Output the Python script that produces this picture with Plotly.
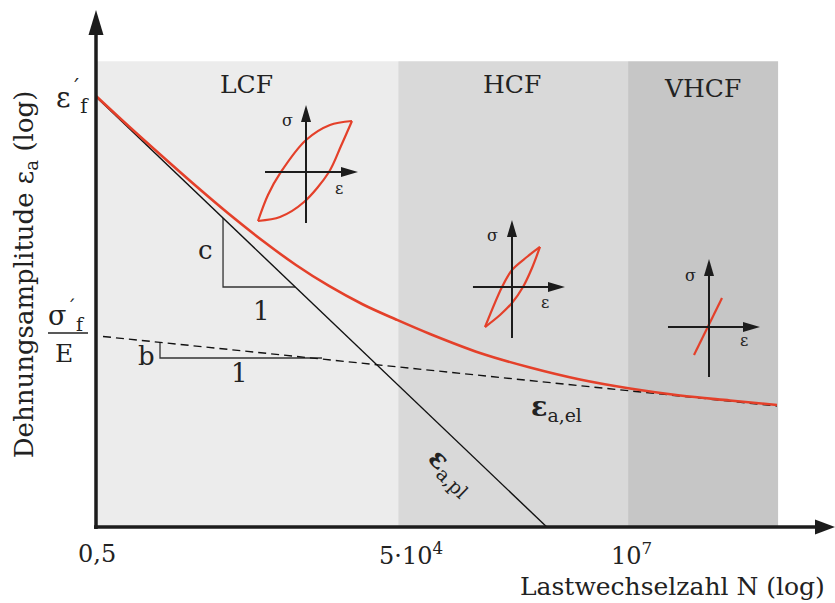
import plotly.graph_objects as go

# ---------------- data (schematic units: x ~ log N position, y ~ log eps position) -------------
region_names = ["LCF", "HCF", "VHCF"]
region_start = [0.0, 40.9, 72.0]
region_end = [40.9, 72.0, 92.3]
region_top = 90.1
region_colors = ["#ececec", "#d9d9d9", "#c6c6c6"]
region_label_x = [20.4, 56.3, 82.1]
region_label_y = [85.5, 85.5, 84.9]

tick_pos = [0.14, 42.6, 72.4]
tick_text = ["0,5", "5·10<sup>4</sup>", "10<sup>7</sup>"]

# plastic strain amplitude (Coffin-Manson), solid black
pl_x = [0.0, 61.0]
pl_y = [83.2, 0.0]
# elastic strain amplitude (Basquin), dashed
el_x = [0.95, 92.15]
el_y = [36.85, 23.4]
# total strain amplitude, red
tot_x = [0.0, 4.47, 9.07, 13.53, 18.0, 22.6, 27.06, 31.53, 36.13, 40.6, 45.2,
         51.96, 58.73, 65.49, 72.26, 79.03, 85.79, 92.15]
tot_y = [83.37, 77.47, 71.57, 65.96, 60.54, 55.32, 50.68, 46.62, 43.04, 40.14, 37.33,
         33.66, 30.85, 28.53, 26.79, 25.44, 24.47, 23.60]

# slope triangles
tri_c_x = [17.19, 17.19, 26.93]
tri_c_y = [59.77, 46.42, 46.42]
tri_b_x = [8.66, 8.66, 30.58]
tri_b_y = [35.78, 32.69, 32.69]

# hysteresis insets (LCF, HCF) and linear-elastic inset (VHCF)
lcf_up_x = [21.92, 23.27, 25.03, 28.42, 31.66, 34.64]
lcf_up_y = [59.19, 64.22, 68.67, 74.85, 77.76, 78.53]
lcf_lo_x = [21.92, 24.9, 28.15, 31.53, 33.15, 34.64]
lcf_lo_y = [59.19, 59.96, 62.86, 68.67, 73.69, 78.53]
hcf_up_x = [52.64, 54.94, 56.29, 58.3, 60.08]
hcf_up_y = [38.68, 46.42, 49.71, 52.22, 54.16]
hcf_lo_x = [52.64, 54.67, 56.29, 57.78, 59.0, 60.08]
hcf_lo_y = [38.68, 41.01, 43.33, 46.42, 50.1, 54.16]
vhcf_x = [80.92, 84.71]
vhcf_y = [33.27, 44.29]

# inset axes: (x_left, x_tip, y_h, x_v, y_bottom, y_tip)
inset_axes = [
    (22.87, 35.45, 68.67, 28.42, 58.80, 81.62),
    (51.01, 63.46, 46.42, 56.29, 36.56, 59.38),
    (77.40, 89.85, 38.68, 82.95, 29.01, 51.84),
]
inset_sigma_pos = [(25.98, 78.72), (53.72, 56.48), (80.38, 48.74)]
inset_eps_pos = [(32.88, 65.57), (60.76, 43.33), (87.69, 36.17)]

# ---------------- layout geometry -------------------------------------------------------------
W, H = 835, 603
OX, OY = 96, 527          # pixel position of the origin
PXX, PXY = 7.39, 5.17     # pixels per unit
x_range = [-OX / PXX, (W - OX) / PXX]
y_range = [-(H - OY) / PXY, OY / PXY]

FONT = "DejaVu Serif"
TXT = "#222222"
RED = "#e4402a"
AX = "#1c1c1c"

fig = go.Figure()

shapes = []
for xs, xe, c in zip(region_start, region_end, region_colors):
    shapes.append(dict(type="rect", xref="x", yref="y", x0=xs, x1=xe, y0=0, y1=region_top,
                       fillcolor=c, line=dict(width=0), layer="below"))


def arrow_head(xt, yt, direction, length_px, half_px, color=AX):
    if direction == "up":
        dy = length_px / PXY
        dx = half_px / PXX
        path = f"M{xt},{yt} L{xt - dx},{yt - dy} L{xt + dx},{yt - dy} Z"
    else:
        dx = length_px / PXX
        dy = half_px / PXY
        path = f"M{xt},{yt} L{xt - dx},{yt + dy} L{xt - dx},{yt - dy} Z"
    return dict(type="path", xref="x", yref="y", path=path, fillcolor=color,
                line=dict(width=0), layer="above")


# main axes
y_tip = (OY - 10) / PXY
x_tip = (W - OX) / PXX
shapes.append(dict(type="line", xref="x", yref="y", x0=0, x1=0, y0=-2 / PXY, y1=y_tip - 15 / PXY,
                   line=dict(color=AX, width=3.5)))
shapes.append(dict(type="line", xref="x", yref="y", x0=-2 / PXX, x1=x_tip - 12 / PXX, y0=0, y1=0,
                   line=dict(color=AX, width=3.5)))
shapes.append(arrow_head(0, y_tip, "up", 25, 7.5))
shapes.append(arrow_head(x_tip, 0, "right", 20, 7.5))

# inset axes
for (xl, xt, yh, xv, yb, yt) in inset_axes:
    shapes.append(dict(type="line", xref="x", yref="y", x0=xl, x1=xt - 10 / PXX, y0=yh, y1=yh,
                       line=dict(color=AX, width=2)))
    shapes.append(dict(type="line", xref="x", yref="y", x0=xv, x1=xv, y0=yb, y1=yt - 10 / PXY,
                       line=dict(color=AX, width=2)))
    shapes.append(arrow_head(xt, yh, "right", 17, 5))
    shapes.append(arrow_head(xv, yt, "up", 17, 5))

# fraction bar for sigma'_f / E
shapes.append(dict(type="line", xref="x", yref="y", x0=-6.5, x1=-1.08, y0=37.52, y1=37.52,
                   line=dict(color=TXT, width=1.3)))

# traces
fig.add_trace(go.Scatter(x=tri_c_x, y=tri_c_y, mode="lines", line=dict(color="#333333", width=1.3),
                         hoverinfo="skip"))
fig.add_trace(go.Scatter(x=tri_b_x, y=tri_b_y, mode="lines", line=dict(color="#333333", width=1.3),
                         hoverinfo="skip"))
fig.add_trace(go.Scatter(x=pl_x, y=pl_y, mode="lines", line=dict(color="#111111", width=1.4),
                         name="ε_a,pl"))
fig.add_trace(go.Scatter(x=el_x, y=el_y, mode="lines",
                         line=dict(color="#111111", width=1.4, dash="8px,5px"), name="ε_a,el"))
fig.add_trace(go.Scatter(x=tot_x, y=tot_y, mode="lines",
                         line=dict(color=RED, width=2.6, shape="spline", smoothing=1.0), name="ε_a"))

for xs, ys in [(lcf_up_x, lcf_up_y), (lcf_lo_x, lcf_lo_y), (hcf_up_x, hcf_up_y),
               (hcf_lo_x, hcf_lo_y), (vhcf_x, vhcf_y)]:
    fig.add_trace(go.Scatter(x=xs, y=ys, mode="lines",
                             line=dict(color=RED, width=2.2, shape="spline", smoothing=0.9),
                             hoverinfo="skip"))

ann = []


def label(x, y, text, size, xanchor="center", yanchor="middle", angle=0, color=TXT):
    ann.append(dict(x=x, y=y, xref="x", yref="y", text=text, showarrow=False,
                    xanchor=xanchor, yanchor=yanchor, textangle=angle,
                    font=dict(family=FONT, size=size, color=color)))


for name, lx, ly in zip(region_names, region_label_x, region_label_y):
    label(lx, ly, name, 25)

for tp, tt in zip(tick_pos, tick_text):
    label(tp, -5.2, tt, 24)

for (sx, sy) in inset_sigma_pos:
    label(sx, sy, "σ", 16)
for (ex, ey) in inset_eps_pos:
    label(ex, ey, "ε", 16)

label(14.75, 53.6, "c", 26)
label(22.46, 41.8, "1", 26)
label(6.77, 33.1, "b", 26)
label(19.35, 29.8, "1", 26)

label(-0.7, 83.0, "ε<sup>´</sup><sub>f</sub>", 28, xanchor="right")
label(-4.0, 41.0, "σ<sup>´</sup><sub>f</sub>", 27)
label(-4.3, 33.6, "E", 25)

label(58.6, 23.0, "<b>ε</b><sub>a,el</sub>", 27, xanchor="left")
label(48.0, 10.6, "<b>ε</b><sub>a,pl</sub>", 27, angle=44)

label(98.9, -11.6, "Lastwechselzahl N (log)", 25, xanchor="right")
label(-9.6, 48.9, "Dehnungsamplitude ε<sub>a</sub> (log)", 26, angle=-90)

fig.update_layout(
    width=W, height=H, autosize=False,
    margin=dict(l=0, r=0, t=0, b=0, pad=0),
    paper_bgcolor="white", plot_bgcolor="white",
    showlegend=False,
    xaxis=dict(range=x_range, visible=False, fixedrange=True),
    yaxis=dict(range=y_range, visible=False, fixedrange=True),
    shapes=shapes, annotations=ann,
)

fig.write_html("out.html")
